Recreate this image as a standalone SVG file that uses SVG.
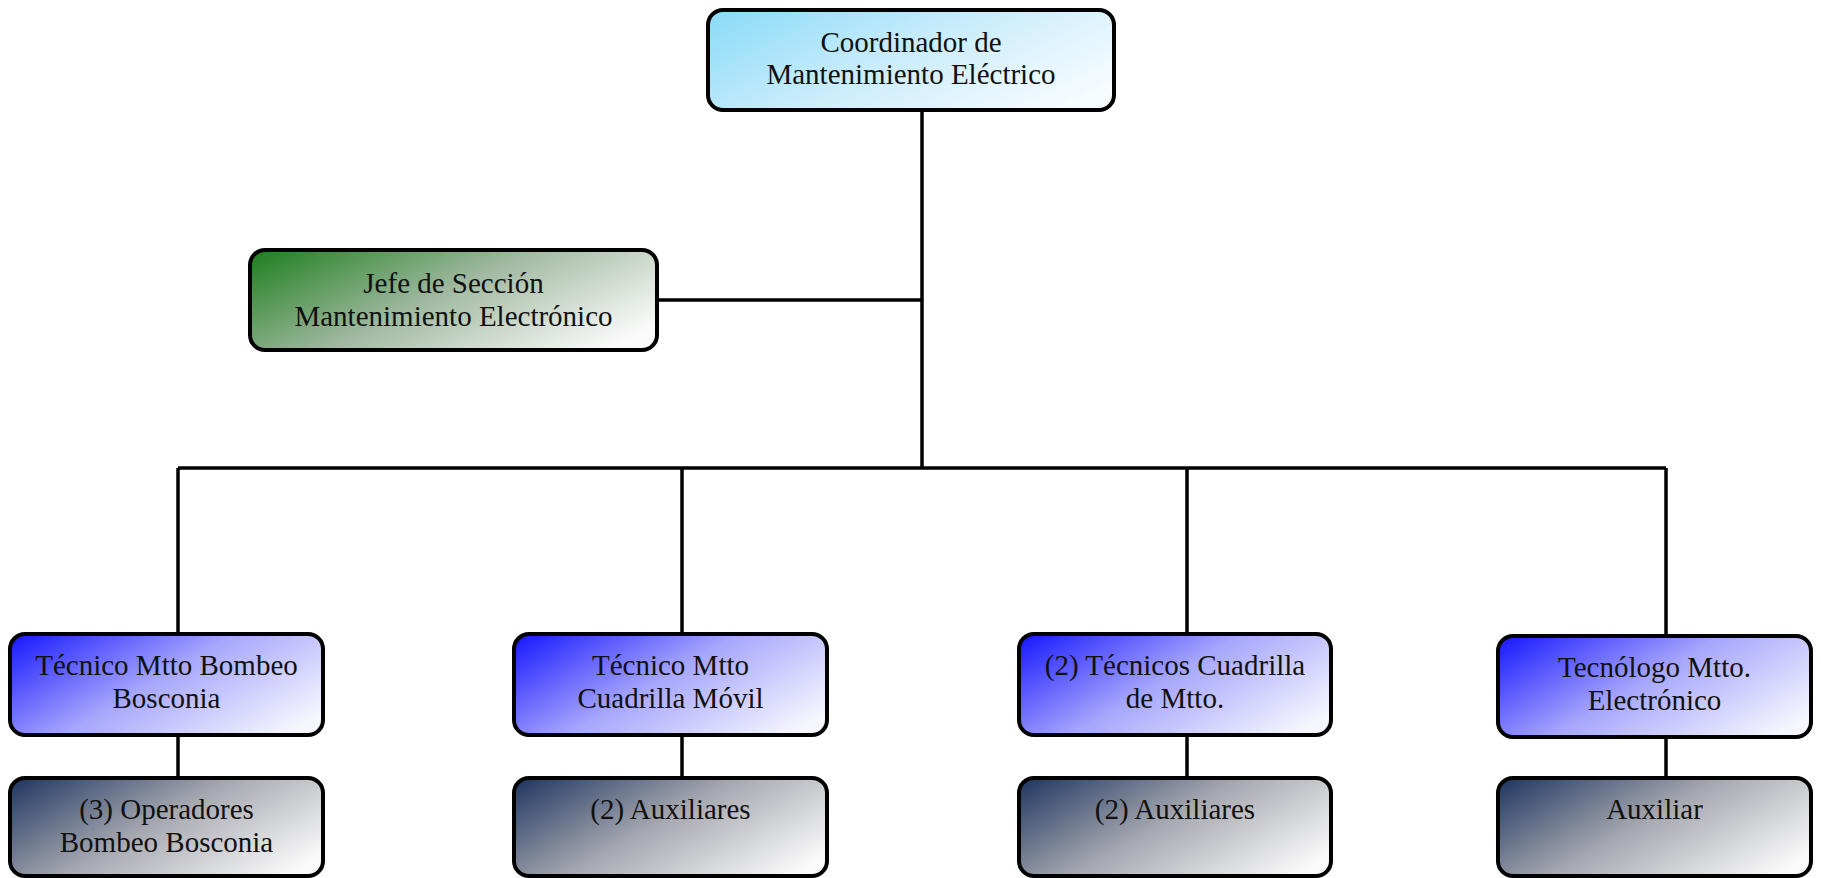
<svg xmlns="http://www.w3.org/2000/svg" width="1821" height="878" viewBox="0 0 1821 878">
  <defs>
    <!-- diagonal shading, darkest at the top-left corner, fading to white at the bottom-right -->
    <linearGradient id="gCyan" x1="0" y1="0" x2="1.1" y2="0.55">
      <stop offset="0" stop-color="#88dbf8"/>
      <stop offset="0.5" stop-color="#c9ecfb"/>
      <stop offset="1" stop-color="#f7fcff"/>
    </linearGradient>
    <linearGradient id="gGreen" x1="0" y1="0" x2="1.1" y2="0.55">
      <stop offset="0" stop-color="#1c7d1c"/>
      <stop offset="0.5" stop-color="#a0b9a0"/>
      <stop offset="1" stop-color="#fbfbfb"/>
    </linearGradient>
    <linearGradient id="gBlue" x1="0" y1="0" x2="1.1" y2="0.6">
      <stop offset="0" stop-color="#1515ff"/>
      <stop offset="0.5" stop-color="#a6a6fc"/>
      <stop offset="1" stop-color="#f6f6ff"/>
    </linearGradient>
    <linearGradient id="gSlate" x1="0" y1="0" x2="1.1" y2="0.6">
      <stop offset="0" stop-color="#1d345f"/>
      <stop offset="0.5" stop-color="#a6a8b0"/>
      <stop offset="1" stop-color="#fafafa"/>
    </linearGradient>
  </defs>
  <style>
    .box { stroke: #000; stroke-width: 4; }
    .cyan { fill: url(#gCyan); }
    .green { fill: url(#gGreen); }
    .blue { fill: url(#gBlue); }
    .slate { fill: url(#gSlate); }
    .lbl { font-family: "Liberation Serif", "Times New Roman", serif; font-size: 29px; fill: #111; text-anchor: middle; }
    .wire { stroke: #000; stroke-width: 3.5; fill: none; }
  </style>
  <rect width="1821" height="878" fill="#fff"/>

  <!-- connectors -->
  <g id="connectors">
    <path class="wire" d="M922 110 V469"/>
    <path class="wire" d="M657 300 H922"/>
    <path class="wire" d="M178 468 H1666"/>
    <path class="wire" d="M178 468 V634"/>
    <path class="wire" d="M682 468 V634"/>
    <path class="wire" d="M1187 468 V634"/>
    <path class="wire" d="M1666 468 V635"/>
    <path class="wire" d="M178 735 V778"/>
    <path class="wire" d="M682 735 V778"/>
    <path class="wire" d="M1187 735 V778"/>
    <path class="wire" d="M1666 737 V778"/>
  </g>

  <!-- top -->
  <g id="coordinador">
    <rect class="box cyan" x="708" y="10" width="406" height="100" rx="15"/>
    <text class="lbl" x="911" y="52">Coordinador de</text>
    <text class="lbl" x="911" y="84">Mantenimiento Eléctrico</text>
  </g>

  <g id="jefe-seccion">
    <rect class="box green" x="250" y="250" width="407" height="100" rx="15"/>
    <text class="lbl" x="453.5" y="293">Jefe de Sección</text>
    <text class="lbl" x="453.5" y="326">Mantenimiento Electrónico</text>
  </g>

  <!-- technicians -->
  <g id="tecnico-bombeo">
    <rect class="box blue" x="10" y="634" width="313" height="101" rx="15"/>
    <text class="lbl" x="166.5" y="675">Técnico Mtto Bombeo</text>
    <text class="lbl" x="166.5" y="708">Bosconia</text>
  </g>
  <g id="tecnico-cuadrilla-movil">
    <rect class="box blue" x="514" y="634" width="313" height="101" rx="15"/>
    <text class="lbl" x="670.5" y="675">Técnico Mtto</text>
    <text class="lbl" x="670.5" y="708">Cuadrilla Móvil</text>
  </g>
  <g id="tecnicos-cuadrilla">
    <rect class="box blue" x="1019" y="634" width="312" height="101" rx="15"/>
    <text class="lbl" x="1175" y="675">(2) Técnicos Cuadrilla</text>
    <text class="lbl" x="1175" y="708">de Mtto.</text>
  </g>
  <g id="tecnologo">
    <rect class="box blue" x="1498" y="636" width="313" height="101" rx="15"/>
    <text class="lbl" x="1654.5" y="677">Tecnólogo Mtto.</text>
    <text class="lbl" x="1654.5" y="710">Electrónico</text>
  </g>

  <!-- staff -->
  <g id="operadores">
    <rect class="box slate" x="10" y="778" width="313" height="98" rx="15"/>
    <text class="lbl" x="166.5" y="819">(3) Operadores</text>
    <text class="lbl" x="166.5" y="852">Bombeo Bosconia</text>
  </g>
  <g id="auxiliares-1">
    <rect class="box slate" x="514" y="778" width="313" height="98" rx="15"/>
    <text class="lbl" x="670.5" y="819">(2) Auxiliares</text>
  </g>
  <g id="auxiliares-2">
    <rect class="box slate" x="1019" y="778" width="312" height="98" rx="15"/>
    <text class="lbl" x="1175" y="819">(2) Auxiliares</text>
  </g>
  <g id="auxiliar">
    <rect class="box slate" x="1498" y="778" width="313" height="98" rx="15"/>
    <text class="lbl" x="1654.5" y="819">Auxiliar</text>
  </g>
</svg>
